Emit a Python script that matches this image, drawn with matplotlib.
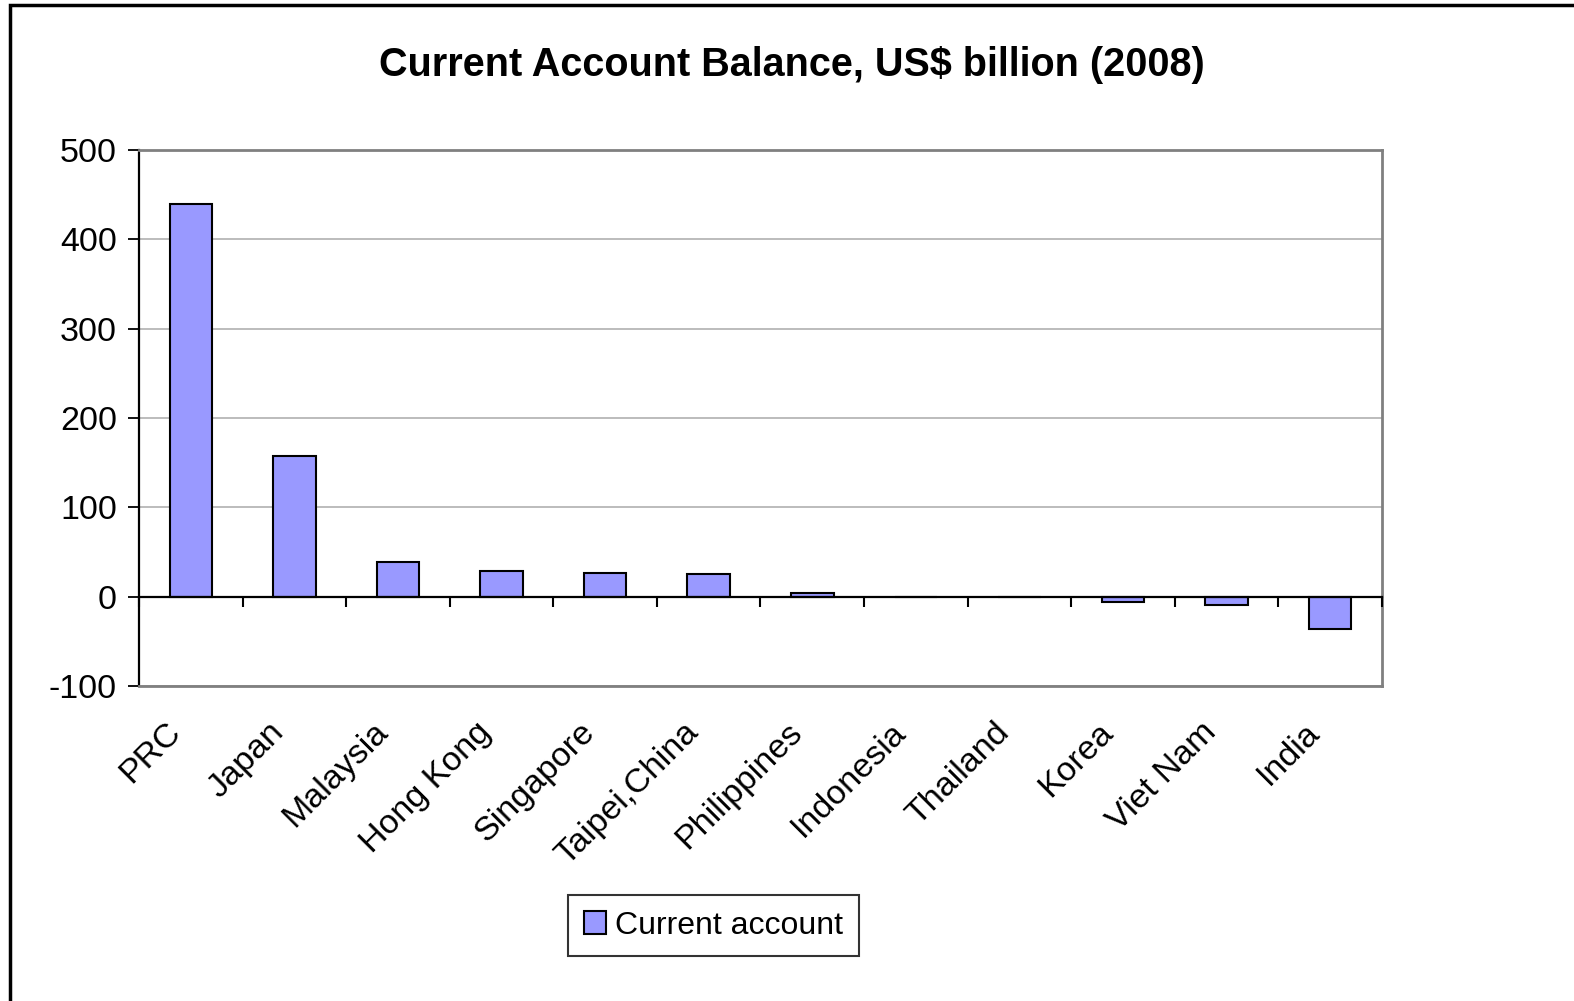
import matplotlib.pyplot as plt
import numpy as np
from matplotlib.patches import Rectangle
from matplotlib.transforms import ScaledTranslation

plt.rcParams["font.family"] = ["Liberation Sans", "DejaVu Sans"]

countries = ["PRC", "Japan", "Malaysia", "Hong Kong", "Singapore", "Taipei,China",
             "Philippines", "Indonesia", "Thailand", "Korea", "Viet Nam", "India"]
current_account = [440.0, 158.0, 39.0, 29.0, 26.0, 25.5, 3.6, 0.0, 0.0, -5.8, -9.5, -36.0]
y_ticks = [-100, 0, 100, 200, 300, 400, 500]

BAR_COLOR = "#9999FF"
GRID_COLOR = "#B0B0B0"
FRAME_GRAY = "#808080"

fig = plt.figure(figsize=(15.74, 10.01), dpi=100)
ax = fig.add_axes([139 / 1574, 1 - 686 / 1001, (1382 - 139) / 1574, (686 - 150) / 1001])

x = np.arange(len(countries))
ax.bar(x, current_account, width=0.41, color=BAR_COLOR, edgecolor="black",
       linewidth=1.5, label="Current account", zorder=3)

ax.set_xlim(-0.5, len(countries) - 0.5)
ax.set_ylim(-100, 500)
ax.set_yticks(y_ticks)
ax.set_yticklabels([str(v) for v in y_ticks], fontsize=24.5)
ax.tick_params(axis="y", direction="out", length=8, width=1.3, color="black", pad=8)
ax.yaxis.grid(True, color=GRID_COLOR, linewidth=1.2, zorder=0)

# category labels under the plot area
ax.set_xticks(x)
ax.set_xticklabels(countries, rotation=45, ha="right", va="top",
                   rotation_mode="anchor", fontsize=24.5)
ax.tick_params(axis="x", length=0, pad=22)
shift = ScaledTranslation(-26 / 100, 0, fig.dpi_scale_trans)
for lbl in ax.get_xticklabels():
    lbl.set_transform(lbl.get_transform() + shift)

ax.spines["left"].set_color("black")
ax.spines["left"].set_linewidth(1.6)
for side in ["top", "right", "bottom"]:
    ax.spines[side].set_color(FRAME_GRAY)
    ax.spines[side].set_linewidth(2.0)

# category axis crossing at zero, with tick marks between categories
ax2 = ax.twiny()
ax2.set_xlim(ax.get_xlim())
ax2.spines["bottom"].set_position(("data", 0))
ax2.spines["bottom"].set_color("black")
ax2.spines["bottom"].set_linewidth(1.6)
for side in ["top", "right", "left"]:
    ax2.spines[side].set_visible(False)
ax2.xaxis.set_ticks_position("bottom")
ax2.set_xticks(np.arange(len(countries) + 1) - 0.5)
ax2.set_xticklabels([])
ax2.tick_params(axis="x", direction="out", length=7.5, width=1.5, color="black")

fig.suptitle("Current Account Balance, US$ billion (2008)", fontsize=28.5,
             fontweight="bold", x=0.503, y=1 - 65 / 1001, va="center")

leg = ax.legend(loc="center", bbox_to_anchor=(713.5 / 1574, 1 - 925.5 / 1001),
                bbox_transform=fig.transFigure, fontsize=23, frameon=True,
                fancybox=False, handlelength=0.7, handleheight=0.7,
                handletextpad=0.3, borderpad=0.5)
leg.get_frame().set_edgecolor("black")
leg.get_frame().set_linewidth(1.5)

fig.patches.append(Rectangle((10 / 1574, -0.1), 1.2, 1.1 - 5 / 1001,
                             transform=fig.transFigure, fill=False,
                             edgecolor="black", linewidth=2.5))

fig.savefig("out.png", dpi=100)
